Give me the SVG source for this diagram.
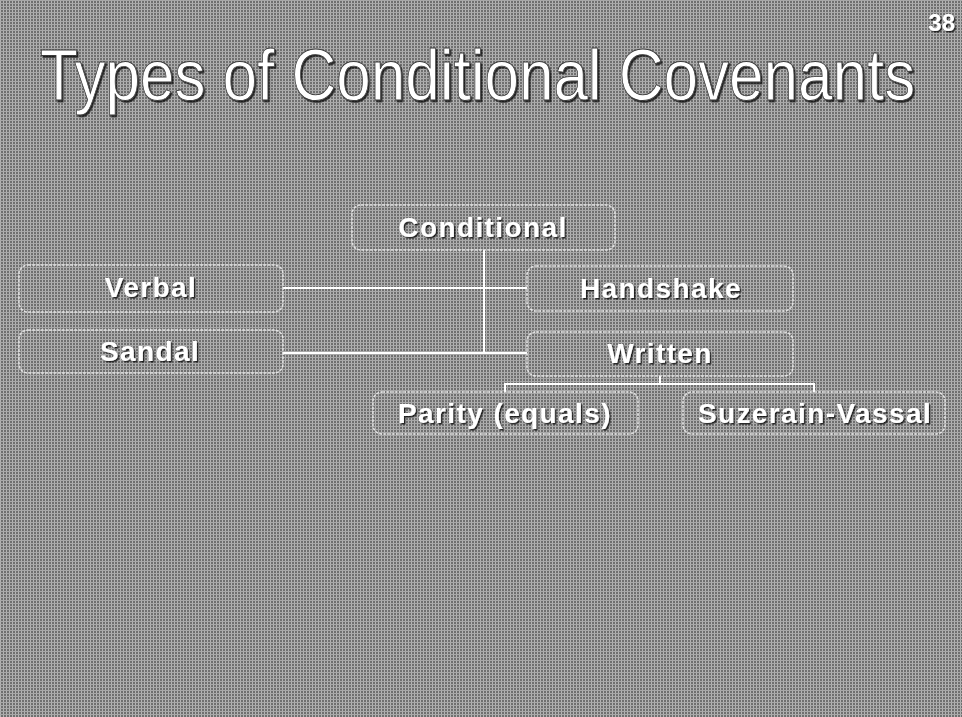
<svg xmlns="http://www.w3.org/2000/svg" width="962" height="717" viewBox="0 0 962 717">
  <defs>
    <!-- fine screen texture for the slide background -->
    <pattern id="screen" width="3" height="3" patternUnits="userSpaceOnUse">
      <rect width="3" height="3" fill="#6f6f6f"/>
      <rect x="0" y="0" width="1" height="3" fill="#b4b4b4"/>
      <rect x="0" y="0" width="3" height="1" fill="#a8a8a8"/>
    </pattern>
    <filter id="shadow" x="-5%" y="-20%" width="110%" height="140%">
      <feDropShadow dx="1.5" dy="1.5" stdDeviation="0.6" flood-color="#000" flood-opacity="0.75"/>
    </filter>
  </defs>
  <style>
    .box { fill: none; stroke: #f2f2f2; stroke-width: 1.5; stroke-opacity: 0.8; stroke-dasharray: 3 1.2; }
    .label { font-family: "Liberation Sans", Arial, sans-serif; font-weight: bold; font-size: 28px; fill: #ffffff; text-anchor: middle; letter-spacing: 1.4px; filter: url(#shadow); }
    .wire { fill: none; stroke: #ffffff; stroke-width: 2; }
    .title { font-family: "Liberation Sans", Arial, sans-serif; font-size: 62px; fill: #ffffff; stroke: #3a3a3a; stroke-width: 0.7; filter: url(#shadow); }
    .num { font-family: "Liberation Sans", Arial, sans-serif; font-weight: bold; font-size: 24px; fill: #ffffff; text-anchor: end; filter: url(#shadow); }
  </style>

  <!-- background -->
  <rect x="0" y="0" width="962" height="717" fill="url(#screen)"/>

  <!-- slide number and heading -->
  <text class="num" x="955" y="31">38</text>
  <text class="title" transform="translate(40 100) scale(1 1.16)" x="0" y="0">Types of Conditional Covenants</text>

  <!-- connectors -->
  <g id="connectors">
    <path class="wire" d="M484 250 V353 H527"/>
    <path class="wire" d="M283 288 H527"/>
    <path class="wire" d="M283 353 H484"/>
    <path class="wire" d="M660 376 V384"/>
    <path class="wire" d="M505 392 V384 H814 V392"/>
  </g>

  <!-- nodes -->
  <g id="node-conditional">
    <rect class="box" x="352" y="205" width="263" height="45" rx="9"/>
    <text class="label" x="483" y="237">Conditional</text>
  </g>
  <g id="node-verbal">
    <rect class="box" x="19" y="265" width="264" height="47" rx="9"/>
    <text class="label" x="151" y="297">Verbal</text>
  </g>
  <g id="node-handshake">
    <rect class="box" x="527" y="266" width="266" height="45" rx="9"/>
    <text class="label" x="661" y="298">Handshake</text>
  </g>
  <g id="node-sandal">
    <rect class="box" x="19" y="330" width="264" height="43" rx="9"/>
    <text class="label" x="150" y="361">Sandal</text>
  </g>
  <g id="node-written">
    <rect class="box" x="527" y="332" width="266" height="44" rx="9"/>
    <text class="label" x="660" y="363">Written</text>
  </g>
  <g id="node-parity">
    <rect class="box" x="373" y="392" width="265" height="42" rx="9"/>
    <text class="label" x="505" y="423">Parity (equals)</text>
  </g>
  <g id="node-suzerain">
    <rect class="box" x="683" y="392" width="262" height="42" rx="9"/>
    <text class="label" x="815" y="423">Suzerain-Vassal</text>
  </g>
</svg>
